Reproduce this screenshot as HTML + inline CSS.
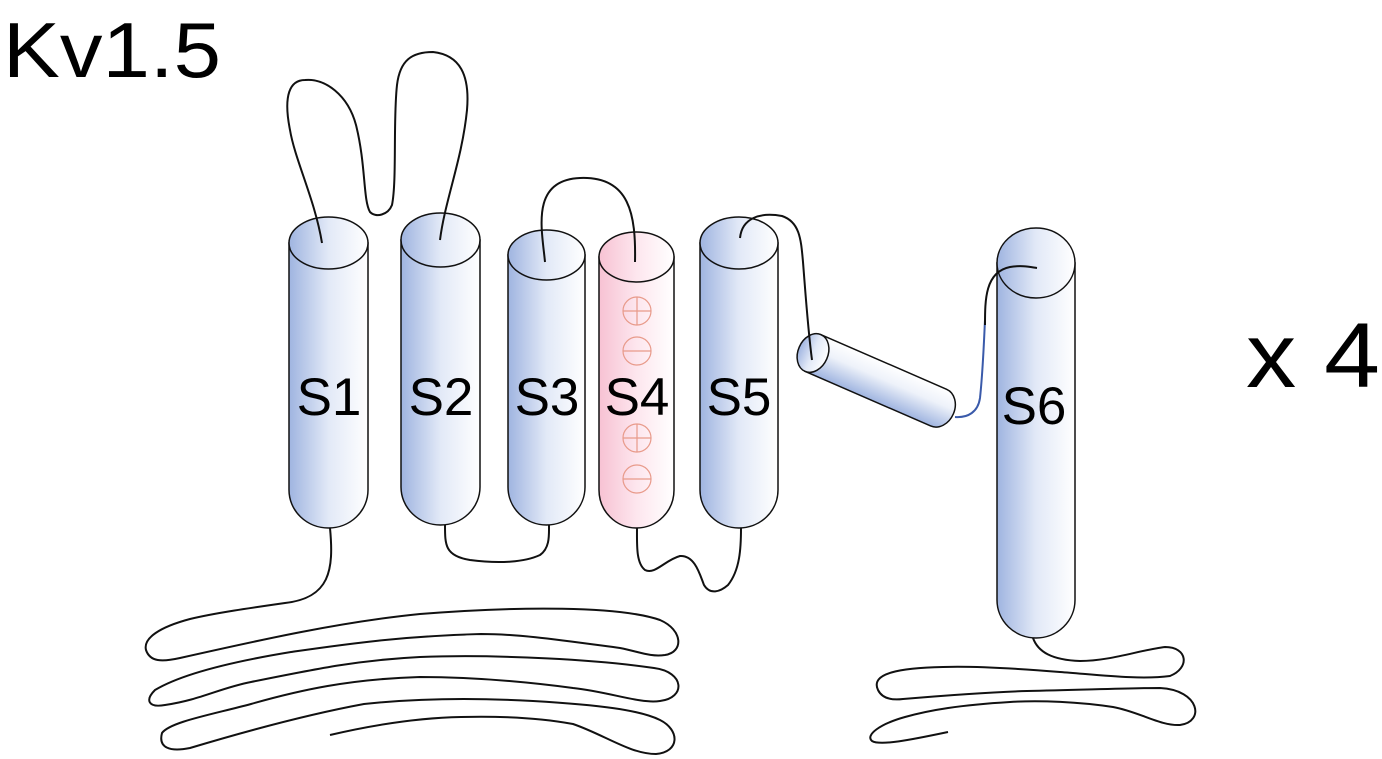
<!DOCTYPE html>
<html><head><meta charset="utf-8"><style>html,body{margin:0;padding:0;background:#fff;}svg{display:block}</style></head>
<body>
<svg width="1382" height="759" viewBox="0 0 1382 759" xmlns="http://www.w3.org/2000/svg">
<defs>
<linearGradient id="b" x1="0" x2="1" y1="0" y2="0"><stop offset="0" stop-color="#9fb4e0"/><stop offset="0.5" stop-color="#e2e9f7"/><stop offset="1" stop-color="#ffffff"/></linearGradient>
<linearGradient id="p" x1="0" x2="1" y1="0" y2="0"><stop offset="0" stop-color="#f7c2d3"/><stop offset="0.5" stop-color="#fde6ee"/><stop offset="1" stop-color="#ffffff"/></linearGradient>
<linearGradient id="t" x1="0" x2="0" y1="1" y2="0"><stop offset="0" stop-color="#9fb4e0"/><stop offset="0.6" stop-color="#eef2fa"/><stop offset="1" stop-color="#ffffff"/></linearGradient>
</defs>
<text x="3" y="77" font-family="Liberation Sans, sans-serif" font-size="78" textLength="218" lengthAdjust="spacingAndGlyphs">Kv1.5</text>
<text x="1246" y="387" font-family="Liberation Sans, sans-serif" font-size="92" textLength="134" lengthAdjust="spacingAndGlyphs">x 4</text>

<!-- cylinders -->
<g stroke="#111" stroke-width="1.5">
<path d="M289,243 L289,490 A39.5,38 0 0 0 368,490 L368,243 Z" fill="url(#b)"/>
<ellipse cx="328.5" cy="243" rx="39.5" ry="26" fill="url(#b)"/>
<path d="M401,240 L401,487 A39.5,38 0 0 0 480,487 L480,240 Z" fill="url(#b)"/>
<ellipse cx="440.5" cy="240" rx="39.5" ry="27" fill="url(#b)"/>
<path d="M508,255 L508,487 A38.5,38 0 0 0 585,487 L585,255 Z" fill="url(#b)"/>
<ellipse cx="546.5" cy="255" rx="38.5" ry="25" fill="url(#b)"/>
<path d="M599,257 L599,490 A37.5,38 0 0 0 674,490 L674,257 Z" fill="url(#p)"/>
<ellipse cx="636.5" cy="257" rx="37.5" ry="25" fill="url(#p)"/>
<path d="M700,243 L700,490 A39,38 0 0 0 778,490 L778,243 Z" fill="url(#b)"/>
<ellipse cx="739" cy="243" rx="39" ry="26" fill="url(#b)"/>
<path d="M997,263 L997,600 A39,38 0 0 0 1075,600 L1075,263 Z" fill="url(#b)"/>
<ellipse cx="1036" cy="263" rx="39" ry="35" fill="url(#b)"/>
<g transform="rotate(23.5 813 353)">
<path d="M813,333 L950,333 A16,20 0 0 1 950,373 L813,373 Z" fill="url(#t)"/>
<ellipse cx="813" cy="353" rx="15" ry="20" fill="url(#b)"/>
</g>
</g>

<g fill="none" stroke="#111" stroke-width="2">
<path d="M322,243 C315,200 295,160 290,130 C283,95 290,80 305,80 C325,78 348,95 356,125 C366,165 363,200 370,212 C376,218 388,215 392,205 C397,180 393,120 397,85 C400,60 412,52 433,52 C460,55 470,75 467,110 C462,160 445,200 440,240"/>
<path d="M545,262 C542,230 530,180 580,178 C630,176 636,215 635,262"/>
<path d="M740,238 C742,218 760,212 782,216 C800,222 801,240 803,262 C806,300 808,330 812,360"/>
<path d="M330,528 C334,570 330,598 285,603 C250,608 215,613 190,619 C160,627 143,638 146,650 C150,662 162,662 180,658 C260,640 340,622 420,614 C520,606 620,606 660,620 C683,630 684,652 665,655 C650,657 640,652 620,648 C560,640 520,634 481,634 C400,636 340,645 291,652 C230,662 180,675 155,690 C145,700 148,708 165,705 C200,700 220,688 251,682 C320,668 360,660 420,657 C500,654 600,660 654,668 C685,672 686,698 660,701 C640,704 610,692 573,688 C520,681 470,677 420,677 C350,679 300,690 251,704 C210,715 170,722 162,733 C158,748 170,752 190,748 C250,730 310,714 364,704 C420,698 480,698 533,701 C600,705 640,710 660,720 C680,730 680,752 656,754 C630,754 605,735 573,724 C540,718 500,716 461,717 C410,718 360,728 330,735"/>
<path d="M637,528 C637,545 636,563 645,570 C655,575 665,560 680,556 C695,555 700,575 704,585 C710,595 720,592 728,585 C740,570 741,548 741,528"/>
<path d="M445,525 C445,545 445,556 470,560 C500,564 525,562 540,555 C550,548 549,535 549,525"/>
<path d="M1033,638 C1038,652 1052,660 1080,661 C1110,661 1140,650 1165,647 C1188,647 1190,668 1170,676 C1140,680 1100,675 1060,672 C1010,668 970,666 943,667 C900,668 870,673 878,690 C883,700 895,700 903,699 C950,695 990,692 1027,691 C1080,690 1130,688 1160,688 C1200,690 1205,722 1180,725 C1160,726 1140,712 1113,707 C1080,702 1040,700 1010,702 C960,705 930,710 905,717 C880,724 865,735 872,741 C880,746 910,740 948,732"/>
</g>
<path d="M955,417 C968,418 978,412 980,398 C983,370 984,340 985,320" fill="none" stroke="#3a5aaa" stroke-width="2"/>
<path d="M985,325 C985,300 985,272 1010,267 C1022,265 1030,267 1037,268" fill="none" stroke="#111" stroke-width="2"/>

<!-- charges -->
<g fill="none" stroke="#e89a8a" stroke-width="1.2">
<circle cx="637" cy="311" r="14"/><path d="M623,311 H651 M637,297 V325"/>
<circle cx="637" cy="351" r="14"/><path d="M623,351 H651"/>
<circle cx="637" cy="438" r="14"/><path d="M623,438 H651 M637,424 V452"/>
<circle cx="637" cy="479" r="14"/><path d="M623,479 H651"/>
</g>

<g font-family="Liberation Sans, sans-serif" font-size="53" text-anchor="middle" fill="#000">
<text x="329" y="415">S1</text>
<text x="441" y="415">S2</text>
<text x="547" y="415">S3</text>
<text x="637" y="415">S4</text>
<text x="739" y="415">S5</text>
<text x="1034" y="424">S6</text>
</g>
</svg>
</body></html>
